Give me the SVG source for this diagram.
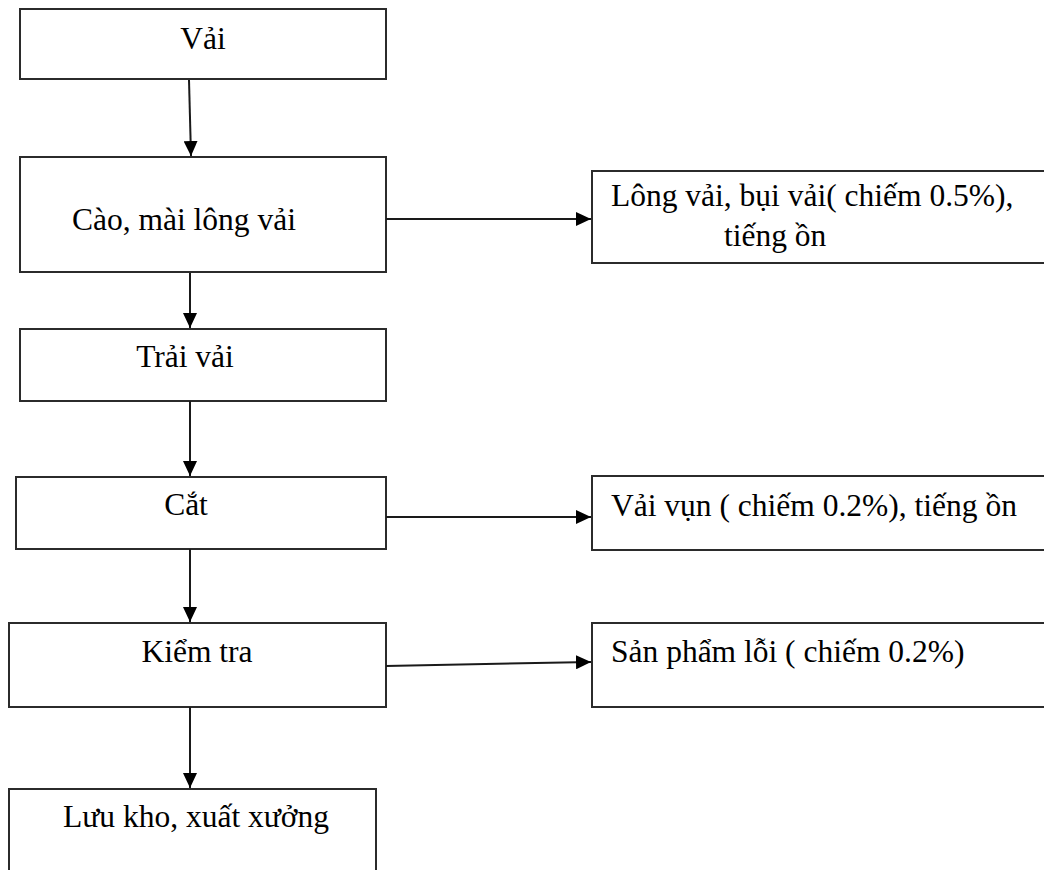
<svg xmlns="http://www.w3.org/2000/svg" width="1044" height="870" viewBox="0 0 1044 870">
  <style>
    .box { fill: #ffffff; stroke: #2b2b2b; stroke-width: 2; }
    .lbl { font-family: "Liberation Serif", "Times New Roman", "DejaVu Serif", serif; font-size: 31.5px; fill: #000000; }
    .con { stroke: #1a1a1a; stroke-width: 2; fill: none; marker-end: url(#arrow); }
  </style>
  <defs>
    <marker id="arrow" markerWidth="16" markerHeight="14" refX="15" refY="7" orient="auto" markerUnits="userSpaceOnUse">
      <path d="M0,0 L15,7 L0,14 Z" fill="#000000"/>
    </marker>
  </defs>
  <rect x="0" y="0" width="1044" height="870" fill="#ffffff"/>

  <!-- main process chain -->
  <g id="n-vai">
    <rect class="box" x="20" y="9" width="366" height="70"/>
    <text class="lbl" x="203" y="49" text-anchor="middle">Vải</text>
  </g>
  <g id="n-cao">
    <rect class="box" x="20" y="157" width="366" height="115"/>
    <text class="lbl" x="72" y="230">Cào, mài lông vải</text>
  </g>
  <g id="n-trai">
    <rect class="box" x="20" y="329" width="366" height="72"/>
    <text class="lbl" x="185" y="367" text-anchor="middle">Trải  vải</text>
  </g>
  <g id="n-cat">
    <rect class="box" x="16" y="477" width="370" height="72"/>
    <text class="lbl" x="186" y="515" text-anchor="middle">Cắt</text>
  </g>
  <g id="n-kiem">
    <rect class="box" x="9" y="623" width="377" height="84"/>
    <text class="lbl" x="197" y="662" text-anchor="middle">Kiểm  tra</text>
  </g>
  <g id="n-luu">
    <rect class="box" x="9" y="789" width="367" height="100"/>
    <text class="lbl" x="196" y="827" text-anchor="middle">Lưu kho, xuất xưởng</text>
  </g>

  <!-- by-products / emissions -->
  <g id="o-long">
    <rect class="box" x="592" y="171" width="470" height="92"/>
    <text class="lbl" x="611" y="206">Lông vải, bụi vải( chiếm 0.5%),</text>
    <text class="lbl" x="724" y="246">tiếng ồn</text>
  </g>
  <g id="o-vun">
    <rect class="box" x="592" y="476" width="470" height="74"/>
    <text class="lbl" x="611" y="516">Vải vụn ( chiếm  0.2%), tiếng ồn</text>
  </g>
  <g id="o-loi">
    <rect class="box" x="592" y="623" width="470" height="84"/>
    <text class="lbl" x="611" y="662">Sản phẩm lỗi ( chiếm 0.2%)</text>
  </g>

  <g id="connectors">
    <line class="con" x1="189" y1="80" x2="191" y2="156"/>
    <line class="con" x1="190" y1="273" x2="190" y2="328"/>
    <line class="con" x1="190" y1="401" x2="190" y2="476"/>
    <line class="con" x1="190" y1="549" x2="190" y2="622"/>
    <line class="con" x1="190" y1="707" x2="190" y2="788"/>
    <line class="con" x1="386" y1="219" x2="591" y2="219"/>
    <line class="con" x1="386" y1="517" x2="591" y2="517"/>
    <line class="con" x1="386" y1="666" x2="591" y2="662"/>
  </g>
</svg>
